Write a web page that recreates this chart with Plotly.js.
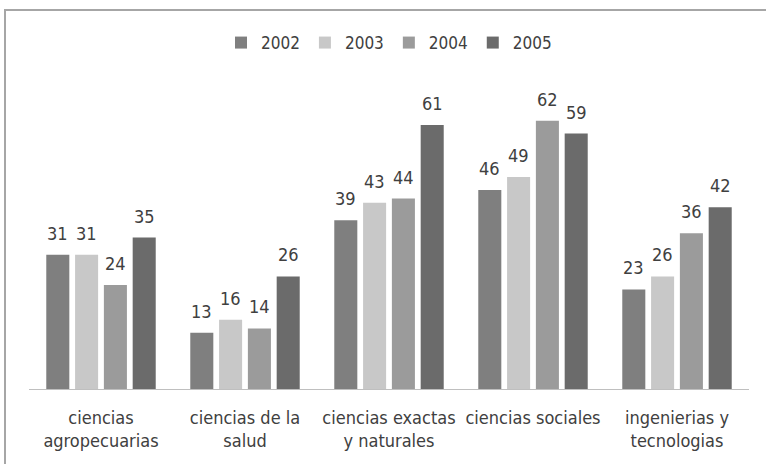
<!DOCTYPE html>
<html>
<head>
<meta charset="utf-8">
<script src="https://cdn.plot.ly/plotly-3.0.1.min.js"></script>
<style>
  html, body { margin: 0; padding: 0; background: #fff; }
  #wrap { position: relative; width: 766px; height: 464px; overflow: hidden; }
  #chart { position: absolute; left: 0; top: 0; width: 766px; height: 464px; }
  #frame { position: absolute; left: 4px; top: 9px; width: 800px; height: 500px;
           border-left: 2px solid #a6a6a6; border-top: 2px solid #a6a6a6; pointer-events: none; }
</style>
</head>
<body>
<div id="wrap"><div id="chart"></div><div id="frame"></div></div>
<script>
const categories = ["ciencias<br>agropecuarias", "ciencias de la<br>salud", "ciencias exactas<br>y naturales", "ciencias sociales", "ingenierias y<br>tecnologias"];
const years = ["2002", "2003", "2004", "2005"];
const v2002 = [31, 13, 39, 46, 23];
const v2003 = [31, 16, 43, 49, 26];
const v2004 = [24, 14, 44, 62, 36];
const v2005 = [35, 26, 61, 59, 42];
const colors = ["#7f7f7f", "#c8c8c8", "#9b9b9b", "#6b6b6b"];

const series = [v2002, v2003, v2004, v2005];
const FONT = "Liberation Sans Narrow, DejaVu Sans Condensed, sans-serif";
const TXT = "#404040";

const traces = series.map((vals, i) => ({
  type: "bar",
  name: years[i],
  x: categories,
  y: vals,
  marker: { color: colors[i] },
  hoverinfo: "none"
}));

const margin = { l: 29, r: 17, t: 86, b: 75 };
const bargap = 0.2, bargroupgap = 0.2;
const plotW = 766 - margin.l - margin.r;
const slot = plotW / categories.length * (1 - bargap) / series.length;

const annotations = [];
series.forEach((vals, i) => {
  vals.forEach((v, j) => {
    annotations.push({
      x: categories[j], y: v, xref: "x", yref: "y",
      text: String(v), showarrow: false,
      yanchor: "bottom", yshift: 9,
      xshift: (i - (series.length - 1) / 2) * slot,
      font: { family: FONT, size: 18, color: TXT }
    });
  });
});

const layout = {
  width: 766, height: 464,
  margin: margin,
  paper_bgcolor: "rgba(0,0,0,0)",
  plot_bgcolor: "rgba(0,0,0,0)",
  barmode: "group",
  bargap: bargap,
  bargroupgap: bargroupgap,
  showlegend: true,
  legend: {
    orientation: "h", x: 0.5, xanchor: "center", y: 0.8685, yanchor: "bottom",
    yref: "container",
    font: { family: FONT, size: 17, color: TXT },
    itemwidth: 30, traceorder: "normal"
  },
  xaxis: {
    showline: true, linecolor: "#bfbfbf", linewidth: 1,
    ticks: "", showgrid: false, zeroline: false,
    ticklabelstandoff: 12,
    tickfont: { family: FONT, size: 18, color: TXT },
    fixedrange: true
  },
  yaxis: {
    range: [0, 70], visible: false, showgrid: false, zeroline: false, fixedrange: true
  },
  annotations: annotations
};

Plotly.newPlot("chart", traces, layout, { displayModeBar: false, staticPlot: true });
</script>
</body>
</html>
